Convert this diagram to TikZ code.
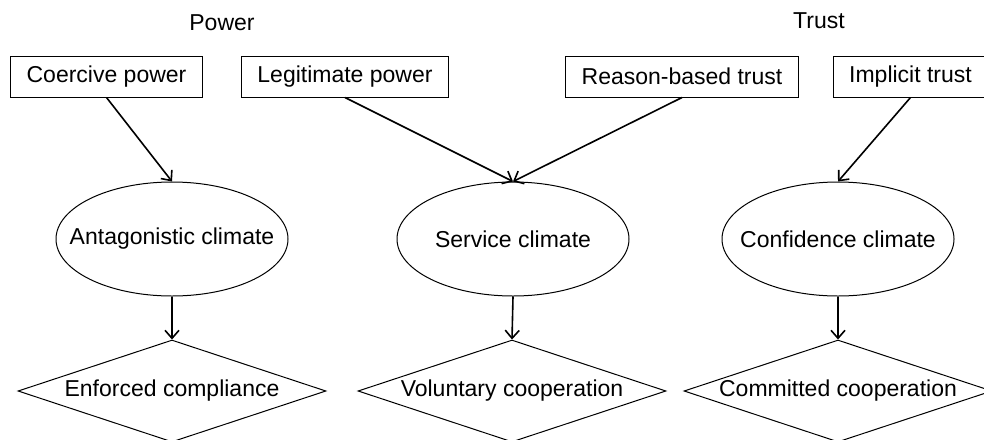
\documentclass[tikz,border=0pt]{standalone}
\usepackage{fontspec}
\setmainfont{Liberation Sans}
\usetikzlibrary{arrows.meta,positioning,shapes.geometric}

\begin{document}
\begin{tikzpicture}[x=1pt,y=-1pt,
  src/.style={draw,line width=1pt,minimum height=41pt,inner xsep=16pt,
              font=\fontsize{23}{27}\selectfont},
  clim/.style={ellipse,draw,line width=1pt,minimum width=232pt,minimum height=114pt,
              inner sep=0pt,label={[font=\fontsize{23}{27}\selectfont]center:#1}},
  outc/.style={diamond,draw,line width=1pt,aspect=3,minimum width=308pt,
              minimum height=102pt,inner sep=0pt,font=\fontsize{23}{27}\selectfont},
  hdr/.style={font=\fontsize{23}{27}\selectfont},
  arr/.style={line width=1.6pt,-{Straight Barb[length=8pt,width=14pt]}}
]
\useasboundingbox (0,0) rectangle (984,439);

% Group headers
\node[hdr] (pow) at (222,23) {Power};
\node[hdr] (tru) at (819,21) {Trust};

% ---- Antecedent boxes ----------------------------------------
\node[src] (coe) at (106.5,76.5) {Coercive power};
\node[src] (leg) at (345,76.5)   {Legitimate power};
\node[src] (rea) at (682,76.5)   {Reason-based trust};
\node[src] (imp) at (910.5,76.5) {Implicit trust};

% ---- Climates ------------------------------------------------
\node[clim=Antagonistic climate] (ant) at (172,239) {};
\node[clim=Service climate]      (ser) at (513,239) {};
\node[clim=Confidence climate]   (con) at (838,239) {};

% ---- Outcomes ------------------------------------------------
\node[outc] (enf) at (172,391) {Enforced compliance};
\node[outc] (vol) at (512,391) {Voluntary cooperation};
\node[outc] (com) at (838,391) {Committed cooperation};

% ---- Edges ---------------------------------------------------
\draw[arr] (coe.south) -- (ant.north);
\draw[arr] (leg.south) -- (ser.north);
\draw[arr] (rea.south) -- (ser.north);
\draw[arr] (imp.south) -- (con.north);

\draw[arr] (ant.south) -- (enf.north);
\draw[arr] (ser.south) -- (vol.north);
\draw[arr] (con.south) -- (com.north);

\end{tikzpicture}
\end{document}
